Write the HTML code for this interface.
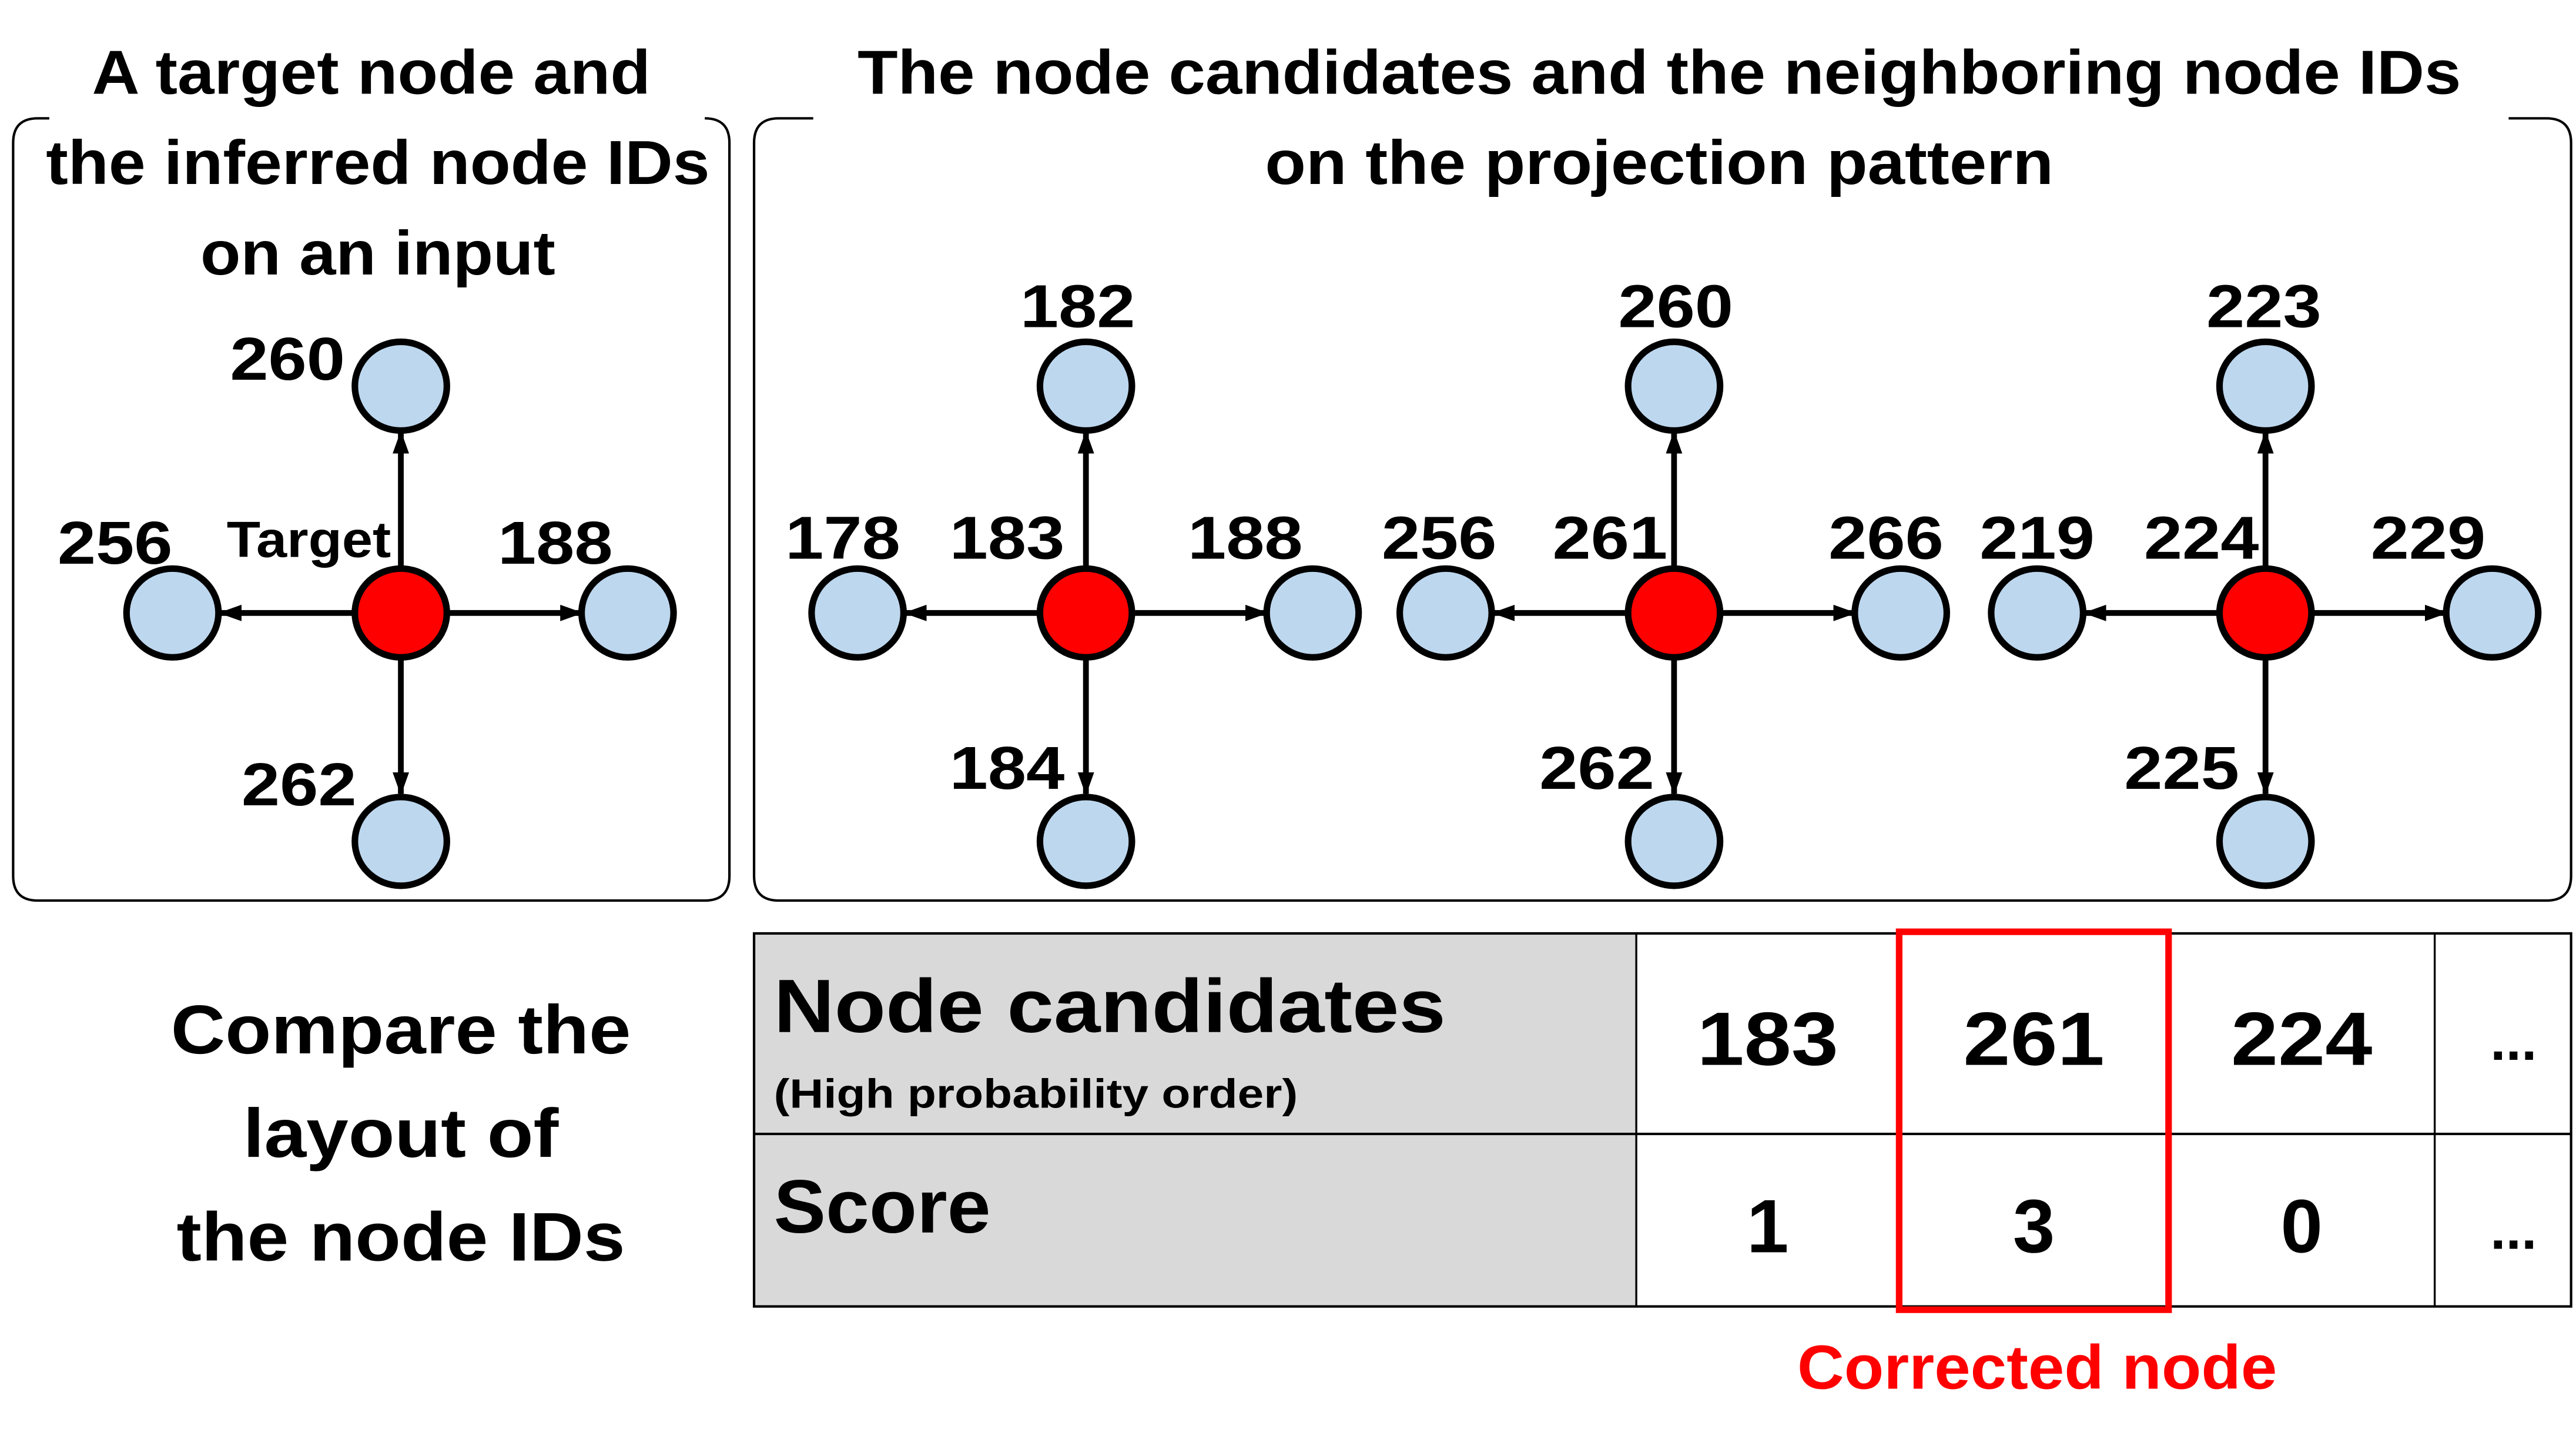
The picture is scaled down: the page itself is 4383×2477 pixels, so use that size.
<!DOCTYPE html>
<html><head><meta charset="utf-8"><style>html,body{margin:0;padding:0;background:#fff}svg{display:block}</style></head>
<body>
<svg width="4383" height="2477" viewBox="0 0 1568 886" preserveAspectRatio="none" xmlns="http://www.w3.org/2000/svg" font-family="'Liberation Sans', sans-serif" font-weight="bold">
<defs>
<marker id="ah" markerWidth="14" markerHeight="10" refX="13" refY="5" orient="auto" markerUnits="userSpaceOnUse"><path d="M0,0 L14,5 L0,10 Z" fill="#000"/></marker>
<g id="star">
<line x1="0" y1="-27" x2="0" y2="-110" stroke="#000" stroke-width="3.5" marker-end="url(#ah)"/>
<line x1="0" y1="27" x2="0" y2="110" stroke="#000" stroke-width="3.5" marker-end="url(#ah)"/>
<line x1="-28" y1="0" x2="-110" y2="0" stroke="#000" stroke-width="3.5" marker-end="url(#ah)"/>
<line x1="28" y1="0" x2="110" y2="0" stroke="#000" stroke-width="3.5" marker-end="url(#ah)"/>
<ellipse cx="0" cy="0" rx="28" ry="27" fill="#ff0000" stroke="#000" stroke-width="4"/>
<ellipse cx="0" cy="-138" rx="28" ry="27" fill="#bdd7ee" stroke="#000" stroke-width="4"/>
<ellipse cx="0" cy="139" rx="28" ry="27" fill="#bdd7ee" stroke="#000" stroke-width="4"/>
<ellipse cx="-139" cy="0" rx="28" ry="27" fill="#bdd7ee" stroke="#000" stroke-width="4"/>
<ellipse cx="138" cy="0" rx="28" ry="27" fill="#bdd7ee" stroke="#000" stroke-width="4"/>
</g>
</defs>
<path d="M30,72 H23 Q8,72 8,87 V533 Q8,548 23,548 H429 Q444,548 444,533 V87 Q444,72 429,72 H430" fill="none" stroke="#000" stroke-width="1.5"/>
<path d="M495,72 H474 Q459,72 459,87 V533 Q459,548 474,548 H1550 Q1565,548 1565,533 V87 Q1565,72 1550,72 H1527" fill="none" stroke="#000" stroke-width="1.5"/>
<g font-size="38" text-anchor="middle">
<text x="226" y="57" textLength="340" lengthAdjust="spacingAndGlyphs">A target node and</text>
<text x="230" y="112" textLength="404" lengthAdjust="spacingAndGlyphs">the inferred node IDs</text>
<text x="230" y="167" textLength="216" lengthAdjust="spacingAndGlyphs">on an input</text>
<text x="1010" y="57" textLength="976" lengthAdjust="spacingAndGlyphs">The node candidates  and the neighboring node IDs</text>
<text x="1010" y="112" textLength="480" lengthAdjust="spacingAndGlyphs">on the projection pattern</text>
</g>
<use href="#star" x="244" y="373"/>
<use href="#star" x="661" y="373"/>
<use href="#star" x="1019" y="373"/>
<use href="#star" x="1379" y="373"/>
<g font-size="37" text-anchor="middle">
<text x="175" y="231" textLength="70" lengthAdjust="spacingAndGlyphs">260</text>
<text x="70" y="343" textLength="70" lengthAdjust="spacingAndGlyphs">256</text>
<text x="338" y="343" textLength="70" lengthAdjust="spacingAndGlyphs">188</text>
<text x="182" y="490" textLength="70" lengthAdjust="spacingAndGlyphs">262</text>
<text x="188" y="339" font-size="31" textLength="100" lengthAdjust="spacingAndGlyphs">Target</text>
<text x="656" y="199" textLength="70" lengthAdjust="spacingAndGlyphs">182</text>
<text x="513" y="340" textLength="70" lengthAdjust="spacingAndGlyphs">178</text>
<text x="613" y="340" textLength="70" lengthAdjust="spacingAndGlyphs">183</text>
<text x="758" y="340" textLength="70" lengthAdjust="spacingAndGlyphs">188</text>
<text x="613" y="480" textLength="70" lengthAdjust="spacingAndGlyphs">184</text>
<text x="1020" y="199" textLength="70" lengthAdjust="spacingAndGlyphs">260</text>
<text x="876" y="340" textLength="70" lengthAdjust="spacingAndGlyphs">256</text>
<text x="980" y="340" textLength="70" lengthAdjust="spacingAndGlyphs">261</text>
<text x="1148" y="340" textLength="70" lengthAdjust="spacingAndGlyphs">266</text>
<text x="972" y="480" textLength="70" lengthAdjust="spacingAndGlyphs">262</text>
<text x="1378" y="199" textLength="70" lengthAdjust="spacingAndGlyphs">223</text>
<text x="1240" y="340" textLength="70" lengthAdjust="spacingAndGlyphs">219</text>
<text x="1340" y="340" textLength="70" lengthAdjust="spacingAndGlyphs">224</text>
<text x="1478" y="340" textLength="70" lengthAdjust="spacingAndGlyphs">229</text>
<text x="1328" y="480" textLength="70" lengthAdjust="spacingAndGlyphs">225</text>
</g>
<g font-size="42" text-anchor="middle">
<text x="244" y="641" textLength="280" lengthAdjust="spacingAndGlyphs">Compare the</text>
<text x="244" y="704" textLength="192" lengthAdjust="spacingAndGlyphs">layout of</text>
<text x="244" y="767" textLength="273" lengthAdjust="spacingAndGlyphs">the node IDs</text>
</g>
<rect x="459" y="568" width="537" height="227" fill="#d9d9d9"/>
<rect x="459" y="568" width="1106" height="227" fill="none" stroke="#000" stroke-width="1.5"/>
<line x1="459" y1="690" x2="1565" y2="690" stroke="#000" stroke-width="1.5"/>
<line x1="996" y1="568" x2="996" y2="795" stroke="#000" stroke-width="1.2"/>
<line x1="1482" y1="568" x2="1482" y2="795" stroke="#000" stroke-width="1.2"/>
<text x="471" y="628" font-size="46" textLength="409" lengthAdjust="spacingAndGlyphs">Node candidates</text>
<text x="471" y="674" font-size="25" textLength="319" lengthAdjust="spacingAndGlyphs">(High probability order)</text>
<text x="471" y="750" font-size="46" textLength="132" lengthAdjust="spacingAndGlyphs">Score</text>
<g font-size="46" text-anchor="middle">
<text x="1076" y="648" textLength="86" lengthAdjust="spacingAndGlyphs">183</text>
<text x="1238" y="648" textLength="86" lengthAdjust="spacingAndGlyphs">261</text>
<text x="1401" y="648" textLength="86" lengthAdjust="spacingAndGlyphs">224</text>
<text x="1076" y="762">1</text>
<text x="1238" y="762">3</text>
<text x="1401" y="762">0</text>
<text x="1530" y="645" font-size="34">...</text>
<text x="1530" y="760" font-size="34">...</text>
</g>
<rect x="1156" y="567" width="164" height="230" fill="none" stroke="#ff0000" stroke-width="4"/>
<text x="1240" y="845" font-size="38" fill="#ff0000" text-anchor="middle" textLength="292" lengthAdjust="spacingAndGlyphs">Corrected node</text>
</svg>
</body></html>
